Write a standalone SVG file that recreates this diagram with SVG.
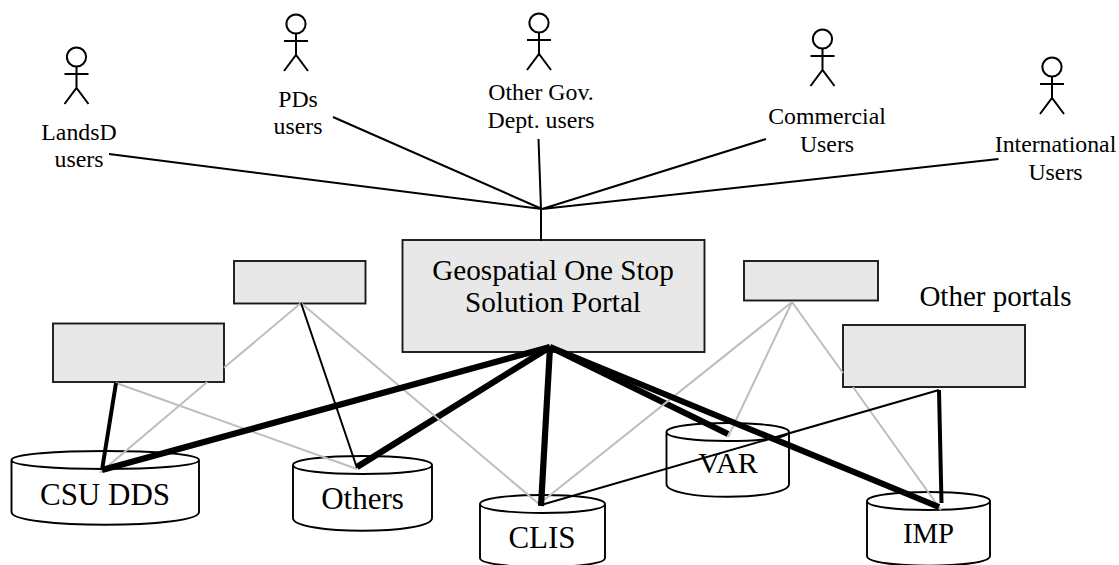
<svg xmlns="http://www.w3.org/2000/svg" width="1119" height="565" viewBox="0 0 1119 565">
<style>
text{font-family:"Liberation Serif","Times New Roman",serif;fill:#000;text-anchor:middle}
.u{font-size:23.800px}
.d{font-size:31px}
.box{fill:#e8e8e8;stroke:#1a1a1a;stroke-width:1.900}
.cy{fill:#fff;stroke:#000;stroke-width:1.900}
.a{fill:none;stroke:#000;stroke-width:2}
.c{fill:none;stroke-linecap:butt}
.k1{stroke:#000;stroke-width:2}
.k4{stroke:#000;stroke-width:4}
.k6{stroke:#000;stroke-width:6.200}
.g{stroke:#bdbdbd;stroke-width:2}
</style>
<defs>
<g id="actor" class="a"><circle cx="0" cy="0" r="9.600"/><path d="M0 9.600V31M-12 17H12M-12 47L0 31L12 47"/></g>
</defs>
<rect width="1119" height="565" fill="#fff"/>
<g id="user-landsd"><use href="#actor" x="76.500" y="57"/><text class="u" x="79" y="140">LandsD</text><text class="u" x="79" y="167">users</text></g>
<g id="user-pds"><use href="#actor" x="296" y="24"/><text class="u" x="298" y="107">PDs</text><text class="u" x="298" y="134">users</text></g>
<g id="user-gov"><use href="#actor" x="539" y="23"/><text class="u" x="541" y="100">Other Gov.</text><text class="u" x="541" y="128">Dept. users</text></g>
<g id="user-commercial"><use href="#actor" x="822.500" y="39"/><text class="u" x="827" y="124">Commercial</text><text class="u" x="827" y="152">Users</text></g>
<g id="user-international"><use href="#actor" x="1052" y="67"/><text class="u" x="1055.500" y="152">International</text><text class="u" x="1055.500" y="180">Users</text></g>

<g id="portal-main"><rect class="box" x="402.500" y="240" width="302" height="112"/><text x="553" y="280" font-size="29.200px">Geospatial One Stop</text><text x="553" y="312" font-size="29.200px">Solution Portal</text></g>
<g id="portal-a"><rect class="box" x="53" y="323.500" width="171" height="58.500"/></g>
<g id="portal-b"><rect class="box" x="234" y="261" width="131.500" height="42.500"/></g>
<g id="portal-c"><rect class="box" x="744" y="261" width="134" height="39.500"/></g>
<g id="portal-d"><rect class="box" x="843" y="325" width="182" height="62"/><text x="995.500" y="306" font-size="29px">Other portals</text></g>

<g id="db-csu"><path class="cy" d="M11.500 460C11.500 472 199 472 199 460V512C199 529 11.500 529 11.500 512ZM11.500 460C11.500 448 199 448 199 460"/><text class="d" x="105" y="505">CSU DDS</text></g>
<g id="db-others"><path class="cy" d="M293 465C293 477 432 477 432 465V518C432 535 293 535 293 518ZM293 465C293 453 432 453 432 465"/><text class="d" x="362.500" y="509">Others</text></g>
<g id="db-clis"><path class="cy" d="M480 504C480 516 605 516 605 504V558C605 570 480 570 480 558ZM480 504C480 492 605 492 605 504"/><text class="d" x="542" y="548">CLIS</text></g>
<g id="db-var"><path class="cy" d="M666.500 432C666.500 444 789 444 789 432V484C789 501 666.500 501 666.500 484ZM666.500 432C666.500 420 789 420 789 432"/><text x="728" y="473" font-size="30px">VAR</text></g>
<g id="db-imp"><path class="cy" d="M867 501C867 513 990 513 990 501V556C990 569 867 569 867 556ZM867 501C867 489 990 489 990 501"/><text x="928.500" y="543" font-size="28.800px">IMP</text></g>

<g id="connectors" class="c">
<path class="k1" d="M109 154L542 209M333 117L542 209M538.500 139L541 209V241M766 139L542 209M998.500 159L542 209"/>
<path class="k6" d="M550 347L357 467"/>
<path class="k6" d="M550 347L728 434"/>
<path class="g" d="M116 383L357 469M301 303L224 367.800M207.200 382L100 472.700M301 303L539 504M792 302L539 504M792 302L728 437M792 302L843 373M853 387L941 510"/>
<path class="k1" d="M301 303L357 468M939 390L541 505"/>
<path class="k4" d="M116 383L102 470M939 390L941.500 503"/>
<path class="k6" d="M550 347L102 470M550 347L541 506M550 347L939 507"/>
</g>
</svg>
